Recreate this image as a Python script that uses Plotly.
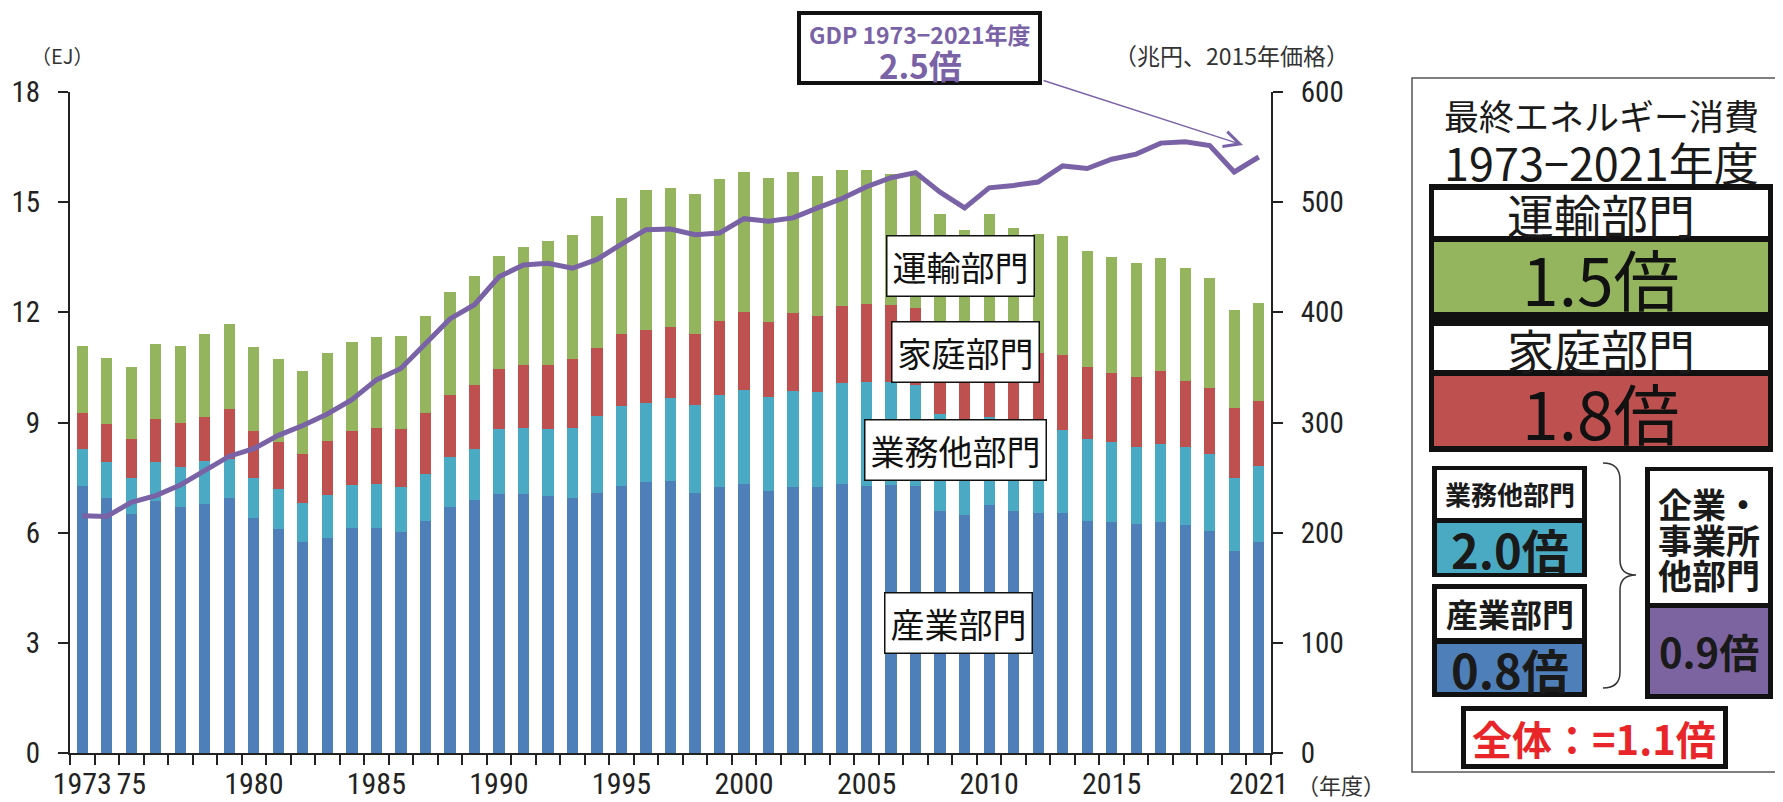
import plotly.graph_objects as go

years = list(range(1973, 2022))

industry = [7.28, 6.94, 6.50, 6.86, 6.71, 6.78, 6.94, 6.41, 6.10, 5.74,
            5.86, 6.14, 6.13, 6.02, 6.33, 6.71, 6.89, 7.05, 7.05, 7.00,
            6.94, 7.09, 7.28, 7.37, 7.41, 7.07, 7.25, 7.32, 7.14, 7.25,
            7.25, 7.32, 7.28, 7.30, 7.28, 6.58, 6.47, 6.76, 6.58, 6.53,
            6.53, 6.33, 6.29, 6.23, 6.29, 6.20, 6.04, 5.50, 5.75]
business = [1.01, 0.99, 1.00, 1.07, 1.08, 1.17, 1.06, 1.09, 1.08, 1.06,
            1.16, 1.15, 1.19, 1.23, 1.26, 1.35, 1.39, 1.77, 1.81, 1.83,
            1.92, 2.10, 2.18, 2.16, 2.25, 2.41, 2.50, 2.56, 2.56, 2.61,
            2.59, 2.75, 2.81, 2.79, 2.75, 2.65, 2.38, 2.40, 2.32, 2.32,
            2.27, 2.23, 2.18, 2.10, 2.12, 2.13, 2.09, 2.00, 2.06]
household = [0.97, 1.02, 1.06, 1.17, 1.19, 1.21, 1.36, 1.26, 1.29, 1.33,
             1.48, 1.48, 1.53, 1.58, 1.66, 1.70, 1.74, 1.65, 1.70, 1.74,
             1.86, 1.85, 1.96, 2.00, 1.93, 1.94, 2.01, 2.13, 2.04, 2.12,
             2.07, 2.09, 2.14, 2.10, 2.09, 2.02, 2.00, 2.14, 2.05, 2.05,
             2.03, 1.95, 1.87, 1.90, 1.98, 1.81, 1.82, 1.89, 1.77]
transport = [1.82, 1.82, 1.94, 2.04, 2.10, 2.25, 2.33, 2.29, 2.27, 2.28,
             2.38, 2.42, 2.47, 2.52, 2.66, 2.79, 2.97, 3.07, 3.23, 3.36,
             3.38, 3.57, 3.70, 3.80, 3.80, 3.81, 3.86, 3.82, 3.93, 3.85,
             3.80, 3.71, 3.65, 3.59, 3.68, 3.43, 3.40, 3.39, 3.34, 3.24,
             3.24, 3.16, 3.16, 3.10, 3.08, 3.07, 2.99, 2.68, 2.67]
gdp = [215.3, 214.7, 227.6, 233.6, 243.3, 256.8, 269.4, 276.3, 288.3, 297.3,
       307.8, 320.7, 338.7, 349.0, 371.0, 394.0, 406.9, 432.3, 443.0, 444.5,
       440.0, 448.0, 462.0, 475.0, 475.6, 470.4, 472.0, 485.0, 482.6, 485.7,
       494.8, 503.3, 514.0, 522.2, 526.8, 509.1, 494.8, 513.0, 515.2, 518.3,
       532.9, 530.5, 539.0, 543.6, 553.6, 554.9, 551.3, 527.4, 541.0]

tick_years = [1973, 1975, 1980, 1985, 1990, 1995, 2000, 2005, 2010, 2015, 2021]
tick_text = ["1973", "75", "1980", "1985", "1990", "1995", "2000", "2005", "2010", "2015", "2021"]

sector_names = ["産業部門", "業務他部門", "家庭部門", "運輸部門"]
sector_colors = ["#4F7FB8", "#4BAAC3", "#BE5150", "#94B55E"]
gdp_color = "#7A62A6"

# target page-pixel geometry of the plot area
L, R, T, B = 70, 1271, 92, 753
W, H = 1783, 802
OFF = 8  # default page body margin


def px(X):
    return (X - L) / (R - L)


def py(Y):
    return (B - Y) / (B - T)


NUM_FONT = "Liberation Sans Narrow, Roboto Condensed, Arial Narrow, Liberation Sans, sans-serif"
JP_FONT = "Noto Sans CJK JP, sans-serif"

fig = go.Figure()
for name, vals, col in zip(sector_names, [industry, business, household, transport], sector_colors):
    fig.add_trace(go.Bar(x=years, y=vals, name=name, marker=dict(color=col, line=dict(width=0)),
                         width=0.46, yaxis="y"))
fig.add_trace(go.Scatter(x=years, y=gdp, name="GDP", mode="lines",
                         line=dict(color=gdp_color, width=5), yaxis="y2"))

shapes = []
annotations = []


def rect(x0, y0, x1, y1, fill, line_color=None, lw=0):
    shapes.append(dict(type="rect", xref="paper", yref="paper",
                       x0=px(x0), x1=px(x1), y0=py(y1), y1=py(y0),
                       fillcolor=fill, line=dict(width=lw, color=line_color or fill), layer="above"))


def text(x, y, s, size, color="#1a1a1a", bold=False, family=JP_FONT, **kw):
    if bold:
        s = "<b>" + s + "</b>"
    d = dict(x=px(x), y=py(y), xref="paper", yref="paper", text=s, showarrow=False,
             xanchor="center", yanchor="middle", font=dict(size=size, color=color, family=family))
    d.update(kw)
    annotations.append(d)


# in-chart sector labels
for label, cx, cy in [("運輸部門", 960, 266), ("家庭部門", 965, 352), ("業務他部門", 955, 450), ("産業部門", 958, 623)]:
    text(cx, cy, label, 34, color="#111", bgcolor="white", bordercolor="#111", borderwidth=1.5, borderpad=5)

# unit labels
text(62, 56, "（EJ）", 20, color="#333")
text(1231, 55, "（兆円、2015年価格）", 23, color="#333")
text(1341, 784, "（年度）", 22, color="#333")

# GDP annotation box
rect(799, 13, 1040, 83, "white", "#111", 4)
text(920, 34, "GDP 1973−2021年度", 23, color=gdp_color, bold=True)
text(920, 65, "2.5倍", 33, color=gdp_color, bold=True)
annotations.append(dict(x=px(1243), y=py(145), xref="paper", yref="paper", ax=1042 - 1243, ay=80 - 145,
                        axref="pixel", ayref="pixel", text="", showarrow=True, arrowhead=5, arrowsize=2.2,
                        arrowwidth=1.4, arrowcolor=gdp_color))

# right-hand summary panel
shapes.append(dict(type="rect", xref="paper", yref="paper", x0=px(1412), x1=px(1781), y0=py(772), y1=py(78),
                   fillcolor="rgba(0,0,0,0)", line=dict(width=1.5, color="#555")))
text(1601, 114, "最終エネルギー消費", 35)
text(1601, 161, "1973−2021年度", 45)

rect(1429, 184, 1773, 452, "#111")
rect(1434, 190, 1768, 236, "white")
rect(1434, 242, 1768, 312, sector_colors[3])
rect(1434, 326, 1768, 370, "white")
rect(1434, 376, 1768, 446, sector_colors[2])
text(1601, 213, "運輸部門", 47)
text(1601, 277, "1.5倍", 66, color="#111")
text(1601, 348, "家庭部門", 47)
text(1601, 411, "1.8倍", 66, color="#111")

rect(1432, 466, 1587, 577, "#111")
rect(1437, 470, 1582, 518, "white")
rect(1437, 523, 1582, 573, sector_colors[1])
text(1510, 494, "業務他部門", 26, bold=True)
text(1510, 548, "2.0倍", 47, bold=True)

rect(1432, 584, 1587, 697, "#111")
rect(1437, 589, 1582, 638, "white")
rect(1437, 644, 1582, 692, sector_colors[0])
text(1510, 613, "産業部門", 32, bold=True)
text(1510, 668, "0.8倍", 47, bold=True)

rect(1645, 467, 1773, 699, "#111")
rect(1650, 471, 1768, 603, "white")
rect(1650, 608, 1768, 694, "#7B64A0")
text(1709, 503, "企業・", 34, bold=True)
text(1709, 539, "事業所", 34, bold=True)
text(1709, 574, "他部門", 34, bold=True)
text(1709, 651, "0.9倍", 40, bold=True)

rect(1461, 706, 1728, 769, "#111")
rect(1466, 711, 1723, 764, "white")
text(1594, 738, "全体：=1.1倍", 40, color="#E8262A", bold=True)

# brace
bx0, bx1, bx2 = 1603, 1620, 1636
path = (f"M {px(bx0)},{py(463)} Q {px(bx1)},{py(463)} {px(bx1)},{py(480)} "
        f"L {px(bx1)},{py(560)} Q {px(bx1)},{py(575)} {px(bx2)},{py(575)} "
        f"Q {px(bx1)},{py(575)} {px(bx1)},{py(590)} L {px(bx1)},{py(672)} "
        f"Q {px(bx1)},{py(688)} {px(bx0)},{py(688)}")
shapes.append(dict(type="path", xref="paper", yref="paper", path=path, line=dict(color="#333", width=1.5)))

axis_color = "#222"
fig.update_layout(
    width=W - OFF, height=H - OFF, autosize=False,
    margin=dict(l=L - OFF, r=W - R, t=T - OFF, b=H - B, pad=0, autoexpand=False),
    paper_bgcolor="white", plot_bgcolor="white",
    barmode="stack", bargap=0, showlegend=False,
    xaxis=dict(range=[1972.5, 2021.5], tickmode="array", tickvals=tick_years, ticktext=tick_text,
               ticks="", showline=True, linewidth=2, linecolor=axis_color, showgrid=False, zeroline=False,
               automargin=False,
               tickfont=dict(family=NUM_FONT, size=30, color="#222"), ticklabelstandoff=3,
               minor=dict(tick0=1972.5, dtick=1, ticks="outside", ticklen=10, tickwidth=1.5,
                          tickcolor=axis_color, showgrid=False)),
    yaxis=dict(range=[0, 18], tickmode="array", tickvals=[0, 3, 6, 9, 12, 15, 18], ticks="outside",
               ticklen=10, tickwidth=1.5, tickcolor=axis_color, showline=True, linewidth=2,
               linecolor=axis_color, showgrid=False, zeroline=False, automargin=False,
               tickfont=dict(family=NUM_FONT, size=29, color="#222"), ticklabelstandoff=12),
    yaxis2=dict(range=[0, 600], overlaying="y", side="right", tickmode="array",
                tickvals=[0, 100, 200, 300, 400, 500, 600], ticks="outside", ticklen=10, tickwidth=1.5,
                tickcolor=axis_color, showline=True, linewidth=2, linecolor=axis_color, showgrid=False,
                zeroline=False, automargin=False,
                tickfont=dict(family=NUM_FONT, size=29, color="#222"), ticklabelstandoff=12),
    shapes=shapes, annotations=annotations,
)

fig.write_html("out.html")
